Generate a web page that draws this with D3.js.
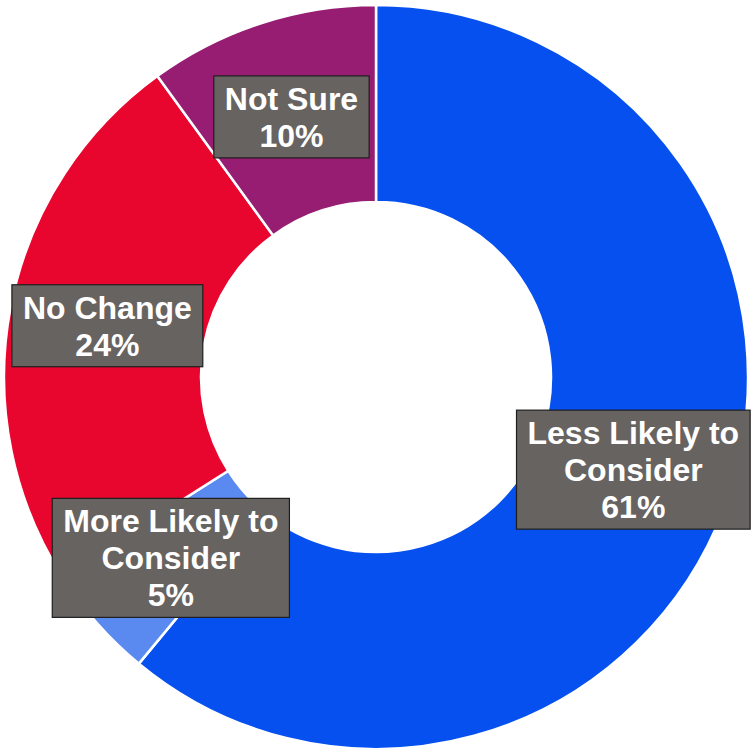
<!DOCTYPE html>
<html>
<head>
<meta charset="utf-8">
<script src="https://cdn.jsdelivr.net/npm/d3@7"></script>
<style>
  html, body { margin: 0; padding: 0; background: #ffffff; }
  svg { display: block; }
  .label text { font-family: Arial, "Liberation Sans", Helvetica, sans-serif; font-weight: 700; }
</style>
</head>
<body>
<svg id="chart" width="755" height="750"></svg>
<script>
// Survey response categories and their shares (percent)
const categories = ["Less Likely to Consider", "More Likely to Consider", "No Change", "Not Sure"];
const labelLines = [["Less Likely to", "Consider"], ["More Likely to", "Consider"], ["No Change"], ["Not Sure"]];
const values = [61, 5, 24, 10];
const colors = ["#0550ee", "#5a8af0", "#e8062f", "#961d72"];

const width = 755, height = 750;
const cx = 376, cy = 377;
const outerR = 372, innerR = 175;

const svg = d3.select("#chart");
const g = svg.append("g").attr("transform", `translate(${cx},${cy})`);

const data = categories.map((c, i) => ({ name: c, value: values[i], lines: labelLines[i], color: colors[i] }));

const pie = d3.pie().value(d => d.value).sort(null);
const arc = d3.arc().innerRadius(innerR).outerRadius(outerR);

const arcs = pie(data);

g.selectAll("path.slice")
  .data(arcs)
  .join("path")
  .attr("class", "slice")
  .attr("d", arc)
  .attr("fill", d => d.data.color)
  .attr("stroke", "#ffffff")
  .attr("stroke-width", 2.5)
  .attr("stroke-linejoin", "miter");

// Boxed data labels centred on each slice
const lineH = 37;
const fontSize = 32;
const labels = g.selectAll("g.label")
  .data(arcs)
  .join("g")
  .attr("class", "label")
  .attr("transform", d => `translate(${arc.centroid(d)})`);

labels.each(function(d) {
  const lab = d3.select(this);
  const lines = d.data.lines.concat([d.data.value + "%"]);
  const n = lines.length;
  const rect = lab.append("rect")
    .attr("fill", "#676361")
    .attr("stroke", "#1e1e1e")
    .attr("stroke-width", 1.2);
  const text = lab.append("text")
    .attr("text-anchor", "middle")
    .attr("fill", "#ffffff")
    .attr("font-size", fontSize);
  let maxW = 0;
  lines.forEach((t, i) => {
    const ts = text.append("tspan")
      .attr("x", 0)
      .attr("y", (i - (n - 1) / 2) * lineH + 11.5)
      .text(t);
    maxW = Math.max(maxW, ts.node().getComputedTextLength());
  });
  const w = maxW + 22;
  const h = n * lineH + 8;
  rect.attr("x", -w / 2).attr("y", -h / 2).attr("width", w).attr("height", h);
});
</script>
</body>
</html>
